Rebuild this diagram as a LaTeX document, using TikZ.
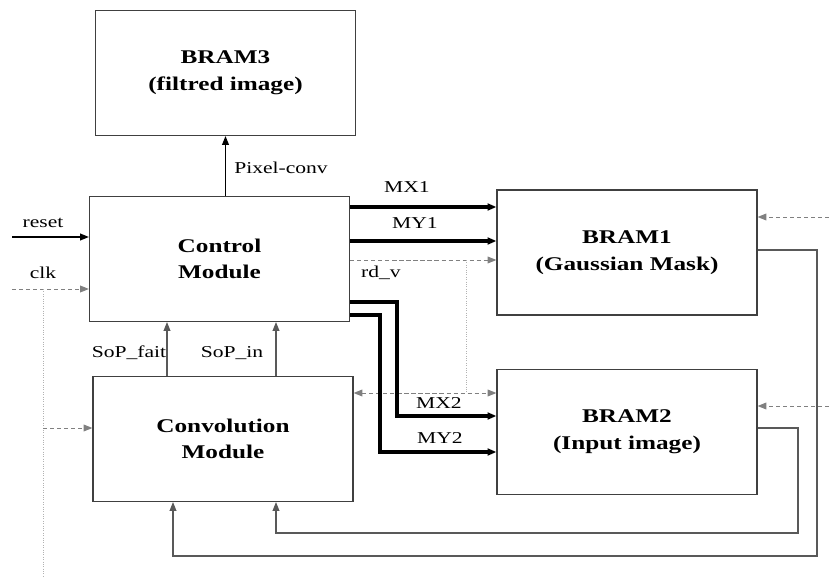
\documentclass[tikz,border=0pt]{standalone}
\usepackage{fontspec}
\setmainfont{Liberation Serif}[FakeStretch=1.3]
\usetikzlibrary{arrows.meta,positioning}

\begin{document}
\begin{tikzpicture}[x=0.025cm,y=-0.025cm,
        >={Triangle[length=2.2mm,width=1.7mm]},
        block/.style={draw=black!75, line width=0.8pt, minimum width=6.5cm, minimum height=3.125cm,
            align=center, font=\bfseries\fontsize{13.8}{19}\selectfont},
        sig/.style={font=\fontsize{11.8}{14}\selectfont, inner sep=1pt},
        bus/.style={->, line width=2.2pt},
        wire/.style={->, draw=black!65, line width=0.8pt},
        ctl/.style={->, draw=black!50, line width=0.7pt, densely dashed}]
        \useasboundingbox (0,0) rectangle (829,577);

        % Blocks
        \node[block] (bram3) at (225.5,73) {BRAM3\\(filtred image)};
        \node[block] (ctrl) at (219.5,259) {Control\\Module};
        \node[block] (conv) at (223,439) {Convolution\\Module};
        \node[block] (bram1) at (627,252.5) {BRAM1\\(Gaussian Mask)};
        \node[block] (bram2) at (627,432) {BRAM2\\(Input image)};

        % Pixel-conv
        \draw[->, line width=0.9pt] (ctrl.north -| bram3.south) -- (bram3.south);
        \node[sig] at (281,168) {Pixel-conv};

        % reset and clk
        \coordinate (reset) at (12,237);
        \coordinate (clk) at (12,289);
        \coordinate (clkdown) at (43,577);
        \draw[->, line width=0.9pt] (reset) -- (reset -| ctrl.west);
        \node[sig] at (43,223) {reset};
        \draw[ctl] (clk) -- (clk -| ctrl.west);
        \node[sig] at (43,273) {clk};
        \draw[ctl, -, draw=black!30, densely dotted] (clk -| clkdown) -- (clkdown);
        \draw[ctl] (clkdown |- 0,428) -- (conv.west |- 0,428);

        % inputs from the right
        \coordinate (inone) at (829,217);
        \coordinate (intwo) at (829,406);
        \draw[ctl] (inone) -- (inone -| bram1.east);
        \draw[ctl] (intwo) -- (intwo -| bram2.east);

        % Control to BRAM1
        \draw[bus] (ctrl.east |- 0,207) -- (bram1.west |- 0,207);
        \node[sig] at (407,187) {MX1};
        \draw[bus] (ctrl.east |- 0,241) -- (bram1.west |- 0,241);
        \node[sig] at (415,223) {MY1};
        \draw[ctl] (ctrl.east |- 0,260) -- (bram1.west |- 0,260);
        \node[sig] at (381,273) {rd\_v};
        \draw[ctl, -, draw=black!30, densely dotted] (466,260) -- (466,393);
        \draw[ctl, <->] (conv.east |- 0,393) -- (bram2.west |- 0,393);

        % Control to BRAM2
        \draw[bus] (ctrl.east |- 0,302) -| (397,416) -- (bram2.west |- 0,416);
        \node[sig] at (439,403) {MX2};
        \draw[bus] (ctrl.east |- 0,315) -| (380,452) -- (bram2.west |- 0,452);
        \node[sig] at (440,438) {MY2};

        % Convolution to Control
        \draw[wire] (conv.north -| 167,0) -- (ctrl.south -| 167,0);
        \node[sig] at (129,353) {SoP\_fait};
        \draw[wire] (conv.north -| 276,0) -- (ctrl.south -| 276,0);
        \node[sig] at (232,353) {SoP\_in};

        % BRAM outputs back to Convolution
        \draw[wire] (bram1.east |- 0,250) -- (817,250) -- (817,556) -| (conv.south -| 173,0);
        \draw[wire] (bram2.east |- 0,428) -- (798,428) -- (798,533) -| (conv.south -| 276,0);
    \end{tikzpicture}
\end{document}
